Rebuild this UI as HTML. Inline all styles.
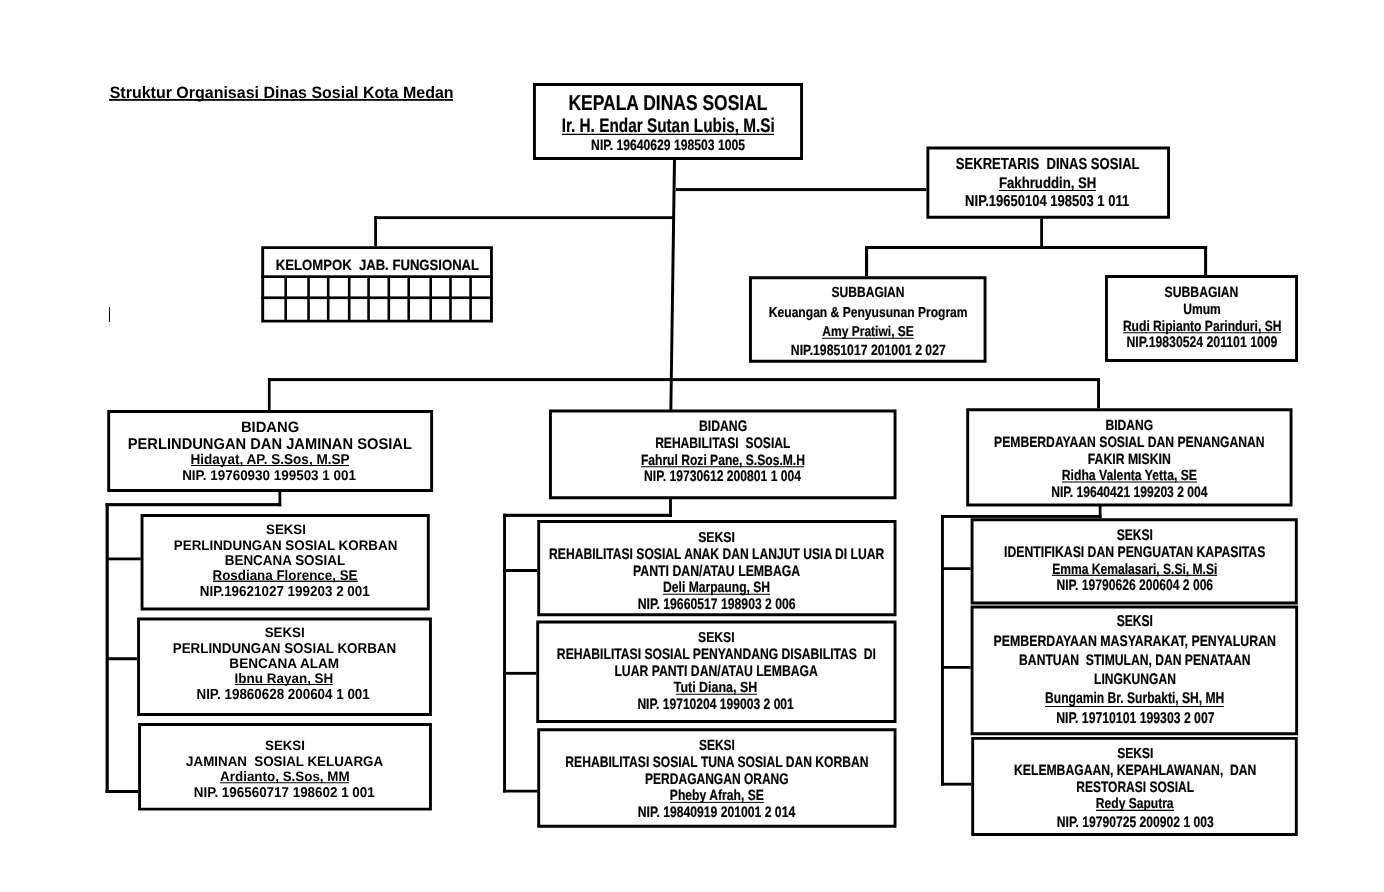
<!DOCTYPE html><html><head><meta charset="utf-8"><style>html,body{margin:0;padding:0;background:#fff;}svg{display:block;will-change:transform;}text{text-rendering:geometricPrecision;font-family:"Liberation Sans",sans-serif;font-weight:bold;fill:#000;}</style></head><body>
<svg width="1384" height="892" viewBox="0 0 1384 892">
<g fill="#000">
<path d="M533 83H803V160H533Z M535.9 85.9V157.1H800.1V85.9Z"/>
<path d="M926.4 146.6H1170V218.75H926.4Z M929.3 149.5V215.85H1167.1V149.5Z"/>
<path d="M261.25 246.2H492.9V322.6H261.25Z M264.15 249.1V319.7H490V249.1Z"/>
<path d="M749 276.25H986.5V362.75H749Z M751.9 279.15V359.85H983.6V279.15Z"/>
<path d="M1105 275H1298V362H1105Z M1107.9 277.9V359.1H1295.1V277.9Z"/>
<path d="M107.25 410.1H433.1V492H107.25Z M110.15 413V489.1H430.2V413Z"/>
<path d="M549 409.6H896.5V499.2H549Z M551.9 412.5V496.3H893.6V412.5Z"/>
<path d="M966.25 408.3H1292.5V506.4H966.25Z M969.15 411.2V503.5H1289.6V411.2Z"/>
<path d="M140.6 514H429.75V610.4H140.6Z M143.5 516.9V607.5H426.85V516.9Z"/>
<path d="M137.1 617.6H431.9V716H137.1Z M140 620.5V713.1H429V620.5Z"/>
<path d="M138.1 723H431.9V810.6H138.1Z M141 725.9V807.7H429V725.9Z"/>
<path d="M537.25 520H896.5V616.25H537.25Z M540.15 522.9V613.35H893.6V522.9Z"/>
<path d="M536.25 620.6H896.5V723H536.25Z M539.15 623.5V720.1H893.6V623.5Z"/>
<path d="M537.25 728.3H896.5V827.75H537.25Z M540.15 731.2V824.85H893.6V731.2Z"/>
<path d="M970.6 518.3H1297.75V604.5H970.6Z M973.5 521.2V601.6H1294.85V521.2Z"/>
<path d="M970.6 605.5H1298.1V735.25H970.6Z M973.5 608.4V732.35H1295.2V608.4Z"/>
<path d="M971.25 736.9H1297.75V836H971.25Z M974.15 739.8V833.1H1294.85V739.8Z"/>
<rect x="676" y="188.1" width="250.4" height="3"/>
<rect x="374.4" y="216.25" width="298.6" height="2.85"/>
<rect x="374.2" y="216.25" width="2.8" height="29.95"/>
<rect x="1040.2" y="218.75" width="2.8" height="30.25"/>
<rect x="865" y="246" width="342.1" height="3"/>
<rect x="865" y="246" width="3.1" height="30.25"/>
<rect x="1204.1" y="246" width="3" height="29"/>
<rect x="267.9" y="378.1" width="832.1" height="3"/>
<rect x="267.9" y="378.1" width="2.7" height="32"/>
<rect x="1097.1" y="378.1" width="2.9" height="30.2"/>
<rect x="278.5" y="489" width="2.75" height="17.2"/>
<rect x="105.6" y="503.1" width="175.65" height="3.1"/>
<rect x="105.6" y="503.1" width="3.15" height="289.9"/>
<rect x="108" y="557.5" width="32.6" height="2.8"/>
<rect x="108" y="657.25" width="29.1" height="3"/>
<rect x="105.6" y="790" width="32.5" height="3"/>
<rect x="669.1" y="499" width="2.8" height="17.9"/>
<rect x="503.1" y="513.75" width="168.8" height="3.15"/>
<rect x="503.1" y="513.75" width="2.9" height="278.75"/>
<rect x="503.1" y="569" width="34.15" height="3"/>
<rect x="503.1" y="671.9" width="33.15" height="2.85"/>
<rect x="503.1" y="789.75" width="34.15" height="2.75"/>
<rect x="1098.75" y="506" width="2.75" height="12.1"/>
<rect x="941" y="515" width="160.5" height="2.9"/>
<rect x="941" y="515" width="2.9" height="270.6"/>
<rect x="941" y="567.25" width="29.6" height="2.75"/>
<rect x="941" y="666" width="29.6" height="2.75"/>
<rect x="941" y="782.75" width="30.25" height="2.85"/>
<rect x="109" y="307" width="1" height="15"/>
<rect x="261.25" y="275.3" width="231.65" height="2.7"/>
<rect x="261.25" y="296.4" width="231.65" height="2.7"/>
<rect x="284.4" y="276" width="2.6" height="46"/>
<rect x="307.25" y="276" width="2.6" height="46"/>
<rect x="326.9" y="276" width="2.6" height="46"/>
<rect x="347.9" y="276" width="2.6" height="46"/>
<rect x="367.25" y="276" width="2.6" height="46"/>
<rect x="387.5" y="276" width="2.6" height="46"/>
<rect x="407.4" y="276" width="2.6" height="46"/>
<rect x="429.4" y="276" width="2.6" height="46"/>
<rect x="449.2" y="276" width="2.6" height="46"/>
<rect x="469.3" y="276" width="2.6" height="46"/>
<polygon points="673,159 676,159 672.3,410 669.4,410"/>
<rect x="109" y="99" width="344" height="1.8"/>
<rect x="562" y="133.75" width="212" height="1.25"/>
<rect x="999" y="190" width="97" height="1"/>
<rect x="822" y="337.75" width="91.75" height="1"/>
<rect x="1123" y="332.25" width="158" height="1"/>
<rect x="191" y="465" width="158" height="1"/>
<rect x="641" y="466.25" width="163" height="1"/>
<rect x="1062" y="481.5" width="135" height="1"/>
<rect x="213" y="580.6" width="144.75" height="1.3"/>
<rect x="235" y="684" width="97.75" height="1"/>
<rect x="220" y="782.25" width="129" height="1"/>
<rect x="663" y="593.75" width="107" height="1"/>
<rect x="676" y="693.75" width="81" height="1"/>
<rect x="670" y="801.9" width="93.75" height="1"/>
<rect x="1052" y="574.75" width="165" height="1.15"/>
<rect x="1045" y="706" width="178.75" height="1"/>
<rect x="1096" y="809.75" width="78" height="1.25"/>
</g>
<text x="109.69" y="97.7" font-size="16.42" textLength="343.91" lengthAdjust="spacingAndGlyphs" xml:space="preserve">Struktur Organisasi Dinas Sosial Kota Medan</text>
<text x="568.41" y="109.8" font-size="21.37" textLength="199.07" lengthAdjust="spacingAndGlyphs" stroke="#000" stroke-width="0.2" xml:space="preserve">KEPALA DINAS SOSIAL</text>
<text x="561.64" y="131.9" font-size="19.62" textLength="213.13" lengthAdjust="spacingAndGlyphs" stroke="#000" stroke-width="0.2" xml:space="preserve">Ir. H. Endar Sutan Lubis, M.Si</text>
<text x="591.11" y="149.9" font-size="14.97" textLength="153.82" lengthAdjust="spacingAndGlyphs" stroke="#000" stroke-width="0.2" xml:space="preserve">NIP. 19640629 198503 1005</text>
<text x="955.72" y="168.95" font-size="15.92" textLength="183.88" lengthAdjust="spacingAndGlyphs" stroke="#000" stroke-width="0.2" xml:space="preserve">SEKRETARIS  DINAS SOSIAL</text>
<text x="998.94" y="187.9" font-size="15.41" textLength="97.4" lengthAdjust="spacingAndGlyphs" stroke="#000" stroke-width="0.2" xml:space="preserve">Fakhruddin, SH</text>
<text x="965.11" y="206" font-size="15.7" textLength="164.09" lengthAdjust="spacingAndGlyphs" stroke="#000" stroke-width="0.2" xml:space="preserve">NIP.19650104 198503 1 011</text>
<text x="275.84" y="269.95" font-size="14.75" textLength="203.28" lengthAdjust="spacingAndGlyphs" stroke="#000" stroke-width="0.2" xml:space="preserve">KELOMPOK  JAB. FUNGSIONAL</text>
<text x="831.49" y="296.9" font-size="14.68" textLength="73.07" lengthAdjust="spacingAndGlyphs" stroke="#000" stroke-width="0.2" xml:space="preserve">SUBBAGIAN</text>
<text x="768.82" y="316.8" font-size="14.39" textLength="198.76" lengthAdjust="spacingAndGlyphs" stroke="#000" stroke-width="0.2" xml:space="preserve">Keuangan &amp; Penyusunan Program</text>
<text x="822.26" y="335.5" font-size="14.24" textLength="91.66" lengthAdjust="spacingAndGlyphs" stroke="#000" stroke-width="0.2" xml:space="preserve">Amy Pratiwi, SE</text>
<text x="790.83" y="354.8" font-size="14.9" textLength="154.98" lengthAdjust="spacingAndGlyphs" stroke="#000" stroke-width="0.2" xml:space="preserve">NIP.19851017 201001 2 027</text>
<text x="1164.61" y="296.9" font-size="14.83" textLength="73.81" lengthAdjust="spacingAndGlyphs" stroke="#000" stroke-width="0.2" xml:space="preserve">SUBBAGIAN</text>
<text x="1183.22" y="313.8" font-size="14.83" textLength="37.6" lengthAdjust="spacingAndGlyphs" stroke="#000" stroke-width="0.2" xml:space="preserve">Umum</text>
<text x="1122.9" y="330.7" font-size="14.83" textLength="158.55" lengthAdjust="spacingAndGlyphs" stroke="#000" stroke-width="0.2" xml:space="preserve">Rudi Ripianto Parinduri, SH</text>
<text x="1126.42" y="346.75" font-size="15.26" textLength="150.99" lengthAdjust="spacingAndGlyphs" stroke="#000" stroke-width="0.2" xml:space="preserve">NIP.19830524 201101 1009</text>
<text x="240.88" y="431.8" font-size="14.97" textLength="58.4" lengthAdjust="spacingAndGlyphs" xml:space="preserve">BIDANG</text>
<text x="127.74" y="448.9" font-size="15.55" textLength="284.16" lengthAdjust="spacingAndGlyphs" xml:space="preserve">PERLINDUNGAN DAN JAMINAN SOSIAL</text>
<text x="190.44" y="464" font-size="14.24" textLength="159.24" lengthAdjust="spacingAndGlyphs" xml:space="preserve">Hidayat, AP. S.Sos, M.SP</text>
<text x="182.14" y="479.9" font-size="14.1" textLength="173.82" lengthAdjust="spacingAndGlyphs" xml:space="preserve">NIP. 19760930 199503 1 001</text>
<text x="699.06" y="430.8" font-size="15.26" textLength="48.08" lengthAdjust="spacingAndGlyphs" stroke="#000" stroke-width="0.2" xml:space="preserve">BIDANG</text>
<text x="655.14" y="447.9" font-size="15.26" textLength="135.25" lengthAdjust="spacingAndGlyphs" stroke="#000" stroke-width="0.2" xml:space="preserve">REHABILITASI  SOSIAL</text>
<text x="640.88" y="464.7" font-size="14.97" textLength="164.05" lengthAdjust="spacingAndGlyphs" stroke="#000" stroke-width="0.2" xml:space="preserve">Fahrul Rozi Pane, S.Sos.M.H</text>
<text x="644.12" y="481" font-size="15.26" textLength="156.94" lengthAdjust="spacingAndGlyphs" stroke="#000" stroke-width="0.2" xml:space="preserve">NIP. 19730612 200801 1 004</text>
<text x="1105.52" y="429.7" font-size="14.68" textLength="47.68" lengthAdjust="spacingAndGlyphs" stroke="#000" stroke-width="0.2" xml:space="preserve">BIDANG</text>
<text x="994.07" y="446.5" font-size="14.97" textLength="270.55" lengthAdjust="spacingAndGlyphs" stroke="#000" stroke-width="0.2" xml:space="preserve">PEMBERDAYAAN SOSIAL DAN PENANGANAN</text>
<text x="1087.73" y="463.7" font-size="14.97" textLength="83.11" lengthAdjust="spacingAndGlyphs" stroke="#000" stroke-width="0.2" xml:space="preserve">FAKIR MISKIN</text>
<text x="1061.82" y="479.6" font-size="14.68" textLength="135.1" lengthAdjust="spacingAndGlyphs" stroke="#000" stroke-width="0.2" xml:space="preserve">Ridha Valenta Yetta, SE</text>
<text x="1051.27" y="496.6" font-size="15.12" textLength="156.11" lengthAdjust="spacingAndGlyphs" stroke="#000" stroke-width="0.2" xml:space="preserve">NIP. 19640421 199203 2 004</text>
<text x="266.07" y="533.9" font-size="13.66" textLength="39.81" lengthAdjust="spacingAndGlyphs" xml:space="preserve">SEKSI</text>
<text x="173.8" y="549.8" font-size="13.95" textLength="223.52" lengthAdjust="spacingAndGlyphs" xml:space="preserve">PERLINDUNGAN SOSIAL KORBAN</text>
<text x="224.78" y="564.8" font-size="14.24" textLength="120.39" lengthAdjust="spacingAndGlyphs" xml:space="preserve">BENCANA SOSIAL</text>
<text x="212.47" y="579.9" font-size="14.1" textLength="145.04" lengthAdjust="spacingAndGlyphs" xml:space="preserve">Rosdiana Florence, SE</text>
<text x="199.78" y="595.8" font-size="14.39" textLength="169.97" lengthAdjust="spacingAndGlyphs" xml:space="preserve">NIP.19621027 199203 2 001</text>
<text x="264.65" y="636.8" font-size="13.66" textLength="40.09" lengthAdjust="spacingAndGlyphs" xml:space="preserve">SEKSI</text>
<text x="172.71" y="652.9" font-size="14.24" textLength="223.46" lengthAdjust="spacingAndGlyphs" xml:space="preserve">PERLINDUNGAN SOSIAL KORBAN</text>
<text x="229.37" y="667.9" font-size="13.95" textLength="109.67" lengthAdjust="spacingAndGlyphs" xml:space="preserve">BENCANA ALAM</text>
<text x="234.56" y="682.8" font-size="13.81" textLength="98.78" lengthAdjust="spacingAndGlyphs" xml:space="preserve">Ibnu Rayan, SH</text>
<text x="196.46" y="698.95" font-size="14.68" textLength="173.29" lengthAdjust="spacingAndGlyphs" xml:space="preserve">NIP. 19860628 200604 1 001</text>
<text x="265.07" y="749.7" font-size="13.52" textLength="39.81" lengthAdjust="spacingAndGlyphs" xml:space="preserve">SEKSI</text>
<text x="186.12" y="765.8" font-size="13.95" textLength="197.01" lengthAdjust="spacingAndGlyphs" xml:space="preserve">JAMINAN  SOSIAL KELUARGA</text>
<text x="220.12" y="780.8" font-size="13.66" textLength="129.53" lengthAdjust="spacingAndGlyphs" xml:space="preserve">Ardianto, S.Sos, MM</text>
<text x="193.79" y="796.75" font-size="14.17" textLength="180.94" lengthAdjust="spacingAndGlyphs" xml:space="preserve">NIP. 196560717 198602 1 001</text>
<text x="698.15" y="541.6" font-size="14.24" textLength="36.72" lengthAdjust="spacingAndGlyphs" stroke="#000" stroke-width="0.2" xml:space="preserve">SEKSI</text>
<text x="549.12" y="558.8" font-size="15.41" textLength="335.07" lengthAdjust="spacingAndGlyphs" stroke="#000" stroke-width="0.2" xml:space="preserve">REHABILITASI SOSIAL ANAK DAN LANJUT USIA DI LUAR</text>
<text x="633.08" y="575.7" font-size="15.41" textLength="167.17" lengthAdjust="spacingAndGlyphs" stroke="#000" stroke-width="0.2" xml:space="preserve">PANTI DAN/ATAU LEMBAGA</text>
<text x="663.07" y="591.8" font-size="14.97" textLength="107.06" lengthAdjust="spacingAndGlyphs" stroke="#000" stroke-width="0.2" xml:space="preserve">Deli Marpaung, SH</text>
<text x="637.76" y="608.9" font-size="15.41" textLength="157.88" lengthAdjust="spacingAndGlyphs" stroke="#000" stroke-width="0.2" xml:space="preserve">NIP. 19660517 198903 2 006</text>
<text x="698.08" y="641.6" font-size="14.24" textLength="36.47" lengthAdjust="spacingAndGlyphs" stroke="#000" stroke-width="0.2" xml:space="preserve">SEKSI</text>
<text x="556.87" y="658.6" font-size="15.12" textLength="319.01" lengthAdjust="spacingAndGlyphs" stroke="#000" stroke-width="0.2" xml:space="preserve">REHABILITASI SOSIAL PENYANDANG DISABILITAS  DI</text>
<text x="614.39" y="675.7" font-size="15.41" textLength="203.52" lengthAdjust="spacingAndGlyphs" stroke="#000" stroke-width="0.2" xml:space="preserve">LUAR PANTI DAN/ATAU LEMBAGA</text>
<text x="673.78" y="691.6" font-size="14.68" textLength="83.44" lengthAdjust="spacingAndGlyphs" stroke="#000" stroke-width="0.2" xml:space="preserve">Tuti Diana, SH</text>
<text x="637.4" y="708.7" font-size="15.12" textLength="156.43" lengthAdjust="spacingAndGlyphs" stroke="#000" stroke-width="0.2" xml:space="preserve">NIP. 19710204 199003 2 001</text>
<text x="698.94" y="749.9" font-size="14.68" textLength="35.96" lengthAdjust="spacingAndGlyphs" stroke="#000" stroke-width="0.2" xml:space="preserve">SEKSI</text>
<text x="565.37" y="766.6" font-size="15.12" textLength="303.19" lengthAdjust="spacingAndGlyphs" stroke="#000" stroke-width="0.2" xml:space="preserve">REHABILITASI SOSIAL TUNA SOSIAL DAN KORBAN</text>
<text x="645.09" y="783.7" font-size="15.41" textLength="143.56" lengthAdjust="spacingAndGlyphs" stroke="#000" stroke-width="0.2" xml:space="preserve">PERDAGANGAN ORANG</text>
<text x="669.84" y="800.05" font-size="14.83" textLength="94" lengthAdjust="spacingAndGlyphs" stroke="#000" stroke-width="0.2" xml:space="preserve">Pheby Afrah, SE</text>
<text x="637.77" y="816.7" font-size="15.12" textLength="157.4" lengthAdjust="spacingAndGlyphs" stroke="#000" stroke-width="0.2" xml:space="preserve">NIP. 19840919 201001 2 014</text>
<text x="1116.63" y="539.9" font-size="15.41" textLength="36.32" lengthAdjust="spacingAndGlyphs" stroke="#000" stroke-width="0.2" xml:space="preserve">SEKSI</text>
<text x="1004.07" y="556.8" font-size="15.41" textLength="261.3" lengthAdjust="spacingAndGlyphs" stroke="#000" stroke-width="0.2" xml:space="preserve">IDENTIFIKASI DAN PENGUATAN KAPASITAS</text>
<text x="1052.28" y="573.5" font-size="14.83" textLength="165.06" lengthAdjust="spacingAndGlyphs" stroke="#000" stroke-width="0.2" xml:space="preserve">Emma Kemalasari, S.Si, M.Si</text>
<text x="1056.44" y="589.7" font-size="15.26" textLength="156.67" lengthAdjust="spacingAndGlyphs" stroke="#000" stroke-width="0.2" xml:space="preserve">NIP. 19790626 200604 2 006</text>
<text x="1116.74" y="625.9" font-size="15.7" textLength="36.24" lengthAdjust="spacingAndGlyphs" stroke="#000" stroke-width="0.2" xml:space="preserve">SEKSI</text>
<text x="993.54" y="646" font-size="15.26" textLength="282.43" lengthAdjust="spacingAndGlyphs" stroke="#000" stroke-width="0.2" xml:space="preserve">PEMBERDAYAAN MASYARAKAT, PENYALURAN</text>
<text x="1019.11" y="664.8" font-size="15.12" textLength="231.36" lengthAdjust="spacingAndGlyphs" stroke="#000" stroke-width="0.2" xml:space="preserve">BANTUAN  STIMULAN, DAN PENATAAN</text>
<text x="1094.08" y="683.7" font-size="15.26" textLength="81.77" lengthAdjust="spacingAndGlyphs" stroke="#000" stroke-width="0.2" xml:space="preserve">LINGKUNGAN</text>
<text x="1045.07" y="703.4" font-size="15.55" textLength="179.29" lengthAdjust="spacingAndGlyphs" stroke="#000" stroke-width="0.2" xml:space="preserve">Bungamin Br. Surbakti, SH, MH</text>
<text x="1056.23" y="722.9" font-size="15.55" textLength="158.31" lengthAdjust="spacingAndGlyphs" stroke="#000" stroke-width="0.2" xml:space="preserve">NIP. 19710101 199303 2 007</text>
<text x="1117.32" y="757.9" font-size="14.39" textLength="36.11" lengthAdjust="spacingAndGlyphs" stroke="#000" stroke-width="0.2" xml:space="preserve">SEKSI</text>
<text x="1014.07" y="774.6" font-size="14.97" textLength="242.3" lengthAdjust="spacingAndGlyphs" stroke="#000" stroke-width="0.2" xml:space="preserve">KELEMBAGAAN, KEPAHLAWANAN,  DAN</text>
<text x="1076.28" y="791.9" font-size="15.12" textLength="117.79" lengthAdjust="spacingAndGlyphs" stroke="#000" stroke-width="0.2" xml:space="preserve">RESTORASI SOSIAL</text>
<text x="1095.86" y="807.9" font-size="14.39" textLength="77.72" lengthAdjust="spacingAndGlyphs" stroke="#000" stroke-width="0.2" xml:space="preserve">Redy Saputra</text>
<text x="1056.85" y="826.5" font-size="15.12" textLength="157" lengthAdjust="spacingAndGlyphs" stroke="#000" stroke-width="0.2" xml:space="preserve">NIP. 19790725 200902 1 003</text>
</svg></body></html>
